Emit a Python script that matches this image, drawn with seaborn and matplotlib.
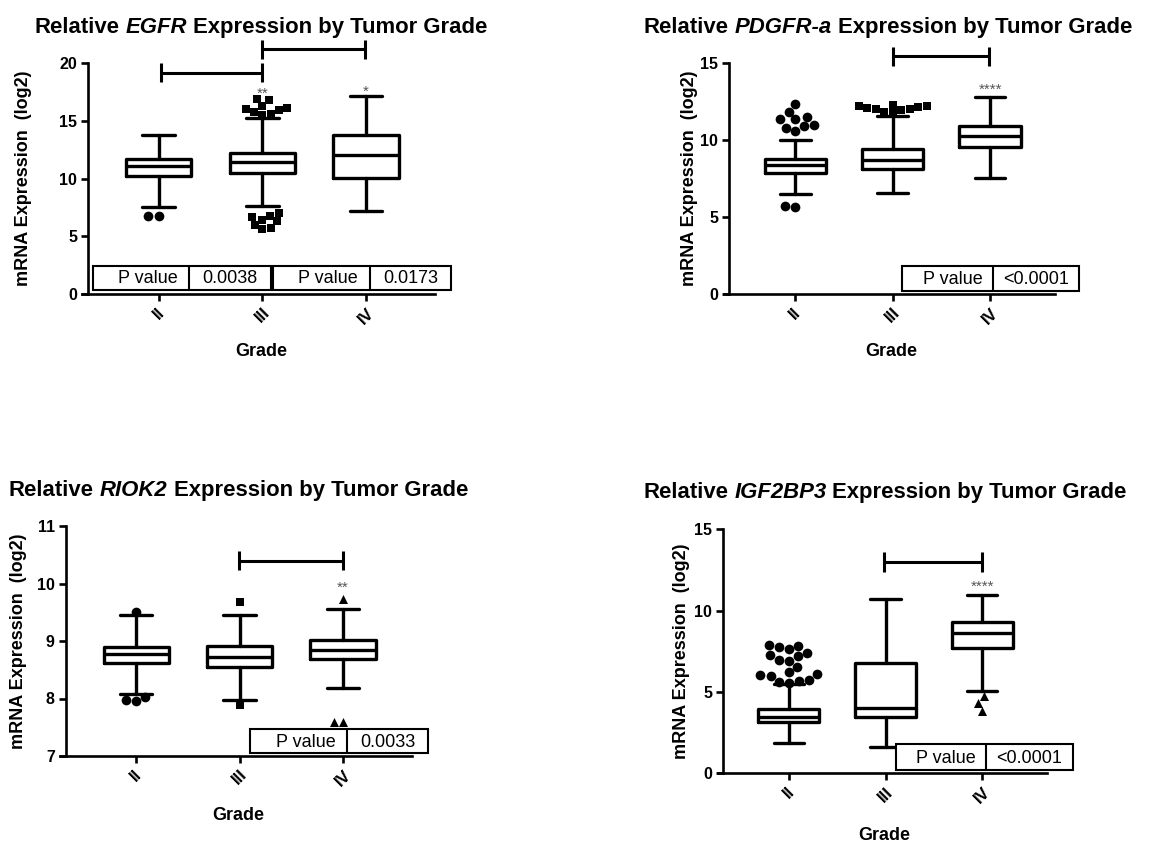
import matplotlib
matplotlib.use("Agg")
import matplotlib.pyplot as plt
import seaborn as sns
from matplotlib.patches import Rectangle

# ---------------- data ----------------
grades = ["II", "III", "IV"]

# EGFR (log2 mRNA expression)
egfr_whislo = [7.51, 7.63, 7.23]
egfr_q1 = [10.23, 10.46, 10.03]
egfr_med = [11.13, 11.42, 12.05]
egfr_q3 = [11.68, 12.20, 13.79]
egfr_whishi = [13.79, 15.30, 17.20]
egfr_out_II = [6.76, 6.76]
egfr_out_III = [16.9, 16.8, 16.3, 16.1, 16.0, 15.95, 15.8, 15.6, 15.5,
                7.0, 6.8, 6.7, 6.4, 6.3, 6.0, 5.75, 5.65]
egfr_out_IV = []
egfr_pvalues = ["0.0038", "0.0173"]
egfr_stars = ["", "**", "*"]

# PDGFR-a
pdgfra_whislo = [6.48, 6.55, 7.57]
pdgfra_q1 = [7.89, 8.13, 9.54]
pdgfra_med = [8.41, 8.71, 10.28]
pdgfra_q3 = [8.76, 9.43, 10.95]
pdgfra_whishi = [10.02, 11.60, 12.83]
pdgfra_out_II = [12.36, 11.86, 11.53, 11.36, 11.36, 10.99, 10.93, 10.82, 10.60,
                 5.72, 5.64]
pdgfra_out_III = [12.3, 12.25, 12.2, 12.15, 12.1, 12.05, 12.0, 11.95, 11.85, 11.75]
pdgfra_out_IV = []
pdgfra_pvalues = ["<0.0001"]
pdgfra_stars = ["", "", "****"]

# RIOK2
riok2_whislo = [8.08, 7.97, 8.19]
riok2_q1 = [8.61, 8.55, 8.68]
riok2_med = [8.77, 8.72, 8.85]
riok2_q3 = [8.90, 8.91, 9.02]
riok2_whishi = [9.45, 9.45, 9.56]
riok2_out_II = [9.51, 8.03, 7.97, 7.96]
riok2_out_III = [9.68, 7.89]
riok2_out_IV = [9.73, 7.60, 7.60]
riok2_pvalues = ["0.0033"]
riok2_stars = ["", "", "**"]

# IGF2BP3
igf_whislo = [1.88, 1.64, 5.08]
igf_q1 = [3.13, 3.48, 7.68]
igf_med = [3.44, 4.00, 8.61]
igf_q3 = [3.93, 6.76, 9.32]
igf_whishi = [5.50, 10.70, 10.96]
igf_out_II = [7.89, 7.84, 7.78, 7.62, 7.41, 7.27, 7.21, 6.97, 6.92, 6.55,
              6.20, 6.08, 6.04, 5.98, 5.73, 5.69, 5.63, 5.53]
igf_out_III = []
igf_out_IV = [4.75, 4.34, 3.85]
igf_pvalues = ["<0.0001"]
igf_stars = ["", "", "****"]

# ---------------- style ----------------
sns.set_style("ticks")
plt.rcParams["font.family"] = ["Liberation Sans", "DejaVu Sans"]

W, H = 1159, 842
fig = plt.figure(figsize=(W / 100, H / 100), dpi=100)

LW = 2.4
markers = ["o", "s", "^"]
msizes = [7, 6, 6.5]


def px_rect(left, right, top, bottom):
    return [left / W, 1 - bottom / H, (right - left) / W, (bottom - top) / H]


panels = [
    dict(gene="EGFR", rect=px_rect(82.5, 435, 63.3, 294), ylim=(0, 20), yticks=[0, 5, 10, 15, 20],
         whislo=egfr_whislo, q1=egfr_q1, med=egfr_med, q3=egfr_q3, whishi=egfr_whishi,
         outs=[egfr_out_II, egfr_out_III, egfr_out_IV], stars=egfr_stars,
         star_y=[0, 17.0, 17.2],
         brackets=[(0.02, 1.0, 19.2, 0.85), (1.0, 1.99, 21.2, 0.85)],
         tables=[(-0.631, 0.294, 1.08, 0.35, 2.43, 0.93, egfr_pvalues[0]),
                 (1.108, 2.036, 2.822, 0.35, 2.43, 0.93, egfr_pvalues[1])],
         ylab_x=-0.1433, xlab_y=-0.212,
         title=(261, 33)),
    dict(gene="PDGFR-a", rect=px_rect(723.8, 1055, 63.3, 294), ylim=(0, 15), yticks=[0, 5, 10, 15],
         whislo=pdgfra_whislo, q1=pdgfra_q1, med=pdgfra_med, q3=pdgfra_q3, whishi=pdgfra_whishi,
         outs=[pdgfra_out_II, pdgfra_out_III, pdgfra_out_IV], stars=pdgfra_stars,
         star_y=[0, 0, 13.04],
         brackets=[(1.0, 1.99, 15.47, 0.62)],
         tables=[(1.097, 2.033, 2.917, 0.21, 1.84, 0.63, pdgfra_pvalues[0])],
         ylab_x=-0.0779, xlab_y=-0.212,
         title=(887.5, 33)),
    dict(gene="RIOK2", rect=px_rect(60.2, 412, 526, 756), ylim=(7, 11), yticks=[7, 8, 9, 10, 11],
         whislo=riok2_whislo, q1=riok2_q1, med=riok2_med, q3=riok2_q3, whishi=riok2_whishi,
         outs=[riok2_out_II, riok2_out_III, riok2_out_IV], stars=riok2_stars,
         star_y=[0, 0, 9.85],
         brackets=[(0.99, 2.0, 10.40, 0.16)],
         tables=[(1.10, 2.04, 2.826, 7.05, 7.47, 7.151, riok2_pvalues[0])],
         ylab_x=-0.0944, xlab_y=-0.222,
         title=(238.5, 496)),
    dict(gene="IGF2BP3", rect=px_rect(717.8, 1046.7, 529.3, 773.3), ylim=(0, 15), yticks=[0, 5, 10, 15],
         whislo=igf_whislo, q1=igf_q1, med=igf_med, q3=igf_q3, whishi=igf_whishi,
         outs=[igf_out_II, igf_out_III, igf_out_IV], stars=igf_stars,
         star_y=[0, 0, 11.19],
         brackets=[(0.98, 2.0, 13.0, 0.61)],
         tables=[(1.107, 2.041, 2.935, 0.20, 1.80, 0.61, igf_pvalues[0])],
         ylab_x=-0.0845, xlab_y=-0.221,
         title=(885, 498)),
]

renderer = fig.canvas.get_renderer()


def text_width(s, size, style):
    t = fig.text(0, 0, s, fontsize=size, fontweight="bold", fontstyle=style)
    w = t.get_window_extent(renderer=renderer).width
    t.remove()
    return w


def rich_title(cx_px, base_px, gene, size=15.9):
    sp = text_width("a a", size, "normal") - text_width("aa", size, "normal")
    parts = [("Relative", "normal"), (gene, "italic"), ("Expression by Tumor Grade", "normal")]
    ws = [text_width(s, size, st) for s, st in parts]
    x = cx_px - (sum(ws) + 2 * sp) / 2
    for (s, st), w in zip(parts, ws):
        fig.text(x / W, 1 - base_px / H, s, fontsize=size, fontweight="bold",
                 fontstyle=st, ha="left", va="baseline", color="black")
        x += w + sp


for p in panels:
    ax = fig.add_axes(p["rect"])
    stats = []
    for i, g in enumerate(grades):
        stats.append(dict(label=g, whislo=p["whislo"][i], q1=p["q1"][i], med=p["med"][i],
                          q3=p["q3"][i], whishi=p["whishi"][i], fliers=[]))
    ax.bxp(stats, positions=[0, 1, 2], widths=0.63, showfliers=False, manage_ticks=False,
           boxprops=dict(color="black", linewidth=LW),
           whiskerprops=dict(color="black", linewidth=LW),
           capprops=dict(color="black", linewidth=LW),
           medianprops=dict(color="black", linewidth=LW))
    for i, g in enumerate(grades):
        vals = p["outs"][i]
        if len(vals) == 0:
            continue
        sns.swarmplot(x=[g] * len(vals), y=vals, order=grades, marker=markers[i],
                      size=msizes[i], color="black", linewidth=0, ax=ax, warn_thresh=1.0)

    # spines first (moving a spine resets the ticks)
    for s in ["top", "right"]:
        ax.spines[s].set_visible(False)
    ax.spines["left"].set_position(("data", -0.68))
    for s in ["left", "bottom"]:
        ax.spines[s].set_linewidth(1.9)
        ax.spines[s].set_color("black")

    # axes styling
    ax.set_xlim(-0.735, 2.667)
    ax.set_ylim(*p["ylim"])
    ax.tick_params(axis="both", direction="out", length=5, width=1.9, color="black",
                   labelcolor="black", pad=3)
    ax.set_yticks(p["yticks"])
    ax.set_yticklabels([str(t) for t in p["yticks"]], fontweight="bold", fontsize=11.5)
    ax.set_xticks([0, 1, 2])
    ax.set_xticklabels(grades, rotation=45, ha="center", fontweight="bold", fontsize=12)
    ax.set_facecolor("white")
    ax.grid(False)

    ax.set_ylabel("mRNA Expression  (log2)", fontsize=13, fontweight="bold", color="black")
    ax.yaxis.set_label_coords(p["ylab_x"], 0.5)
    ax.set_xlabel("Grade", fontsize=13, fontweight="bold", color="black")
    ax.xaxis.set_label_coords(0.507, p["xlab_y"])

    # significance stars
    for i, s in enumerate(p["stars"]):
        if s:
            ax.text(i, p["star_y"][i], s, ha="center", va="baseline", fontsize=11,
                    color="#555555", clip_on=False)

    # brackets
    for (x0, x1, yb, hh) in p["brackets"]:
        ax.plot([x0, x1], [yb, yb], color="black", lw=2.2, clip_on=False, solid_capstyle="butt")
        for xx in (x0, x1):
            ax.plot([xx, xx], [yb - hh, yb + hh], color="black", lw=2.2, clip_on=False,
                    solid_capstyle="butt")

    # P value tables
    for (xl, xd, xr, yb, yt, ybase, pv) in p["tables"]:
        ax.add_patch(Rectangle((xl, yb), xr - xl, yt - yb, fill=True, facecolor="white",
                               edgecolor="black", lw=1.5, clip_on=False, zorder=5))
        ax.plot([xd, xd], [yb, yt], color="black", lw=1.5, clip_on=False, zorder=6)
        ax.text(xd - 0.11, ybase, "P value", ha="right", va="baseline", fontsize=13,
                color="black", zorder=7, clip_on=False)
        ax.text((xd + xr) / 2, ybase, pv, ha="center", va="baseline", fontsize=13,
                color="black", zorder=7, clip_on=False)

    rich_title(p["title"][0], p["title"][1], p["gene"])

fig.savefig("out.png", dpi=100, facecolor="white")
